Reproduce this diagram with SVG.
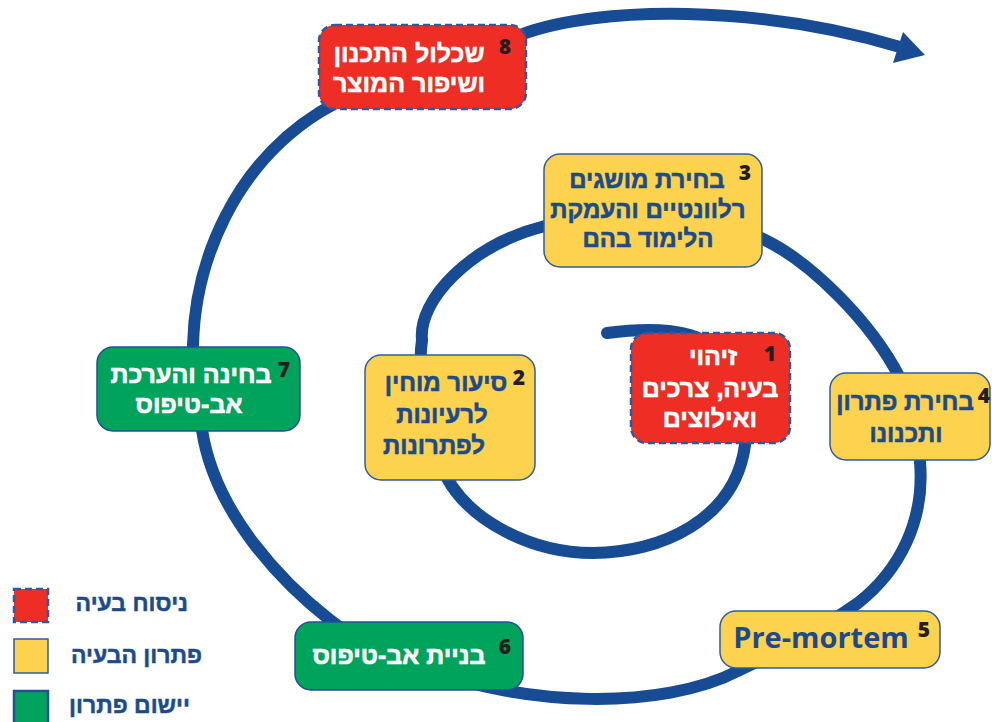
<svg xmlns="http://www.w3.org/2000/svg" width="992" height="722" viewBox="0 0 992 722">
<style>
.spiral{fill:none;stroke:#174C95;stroke-width:12;stroke-linecap:round;stroke-linejoin:round}
.red{fill:#EE2E24;stroke:#2A5BA0;stroke-width:2.5;stroke-dasharray:7 4}
.yellow{fill:#FDD24E;stroke:#2F5C9E;stroke-width:1.5}
.green{fill:#00A35C;stroke:#244F96;stroke-width:1.5}
.tw{font-family:"Liberation Sans","DejaVu Sans",sans-serif;font-weight:bold;font-size:25px;fill:#FFFFFF;stroke:#FFFFFF;stroke-width:0.6;text-anchor:middle}
.tb{font-family:"Liberation Sans","DejaVu Sans",sans-serif;font-weight:bold;font-size:24px;fill:#1B4B8D;stroke:#1B4B8D;stroke-width:0.6;text-anchor:middle}
.num{font-family:"Open Sans","Liberation Sans",sans-serif;font-weight:800;font-size:21px;fill:#231F20;text-anchor:middle}
.leg{font-family:"Liberation Sans","DejaVu Sans",sans-serif;font-weight:bold;font-size:23px;fill:#1B4B8D;stroke:#1B4B8D;stroke-width:0.5;text-anchor:end}
</style>
<rect width="992" height="722" fill="#FFFFFF"/>
<g id="connectors">
<path class="spiral" d="M607,333 C630,330 665,328 690,335 C740,350 752,400 745,445 C735,520 660,553 593,553 C530,553 470,520 447,478 C432,440 416,380 422,340 C418,300 470,245 545,226 C620,210 720,215 765,240 C810,262 870,320 900,378 C915,410 922,440 920,462 C925,520 900,570 858,603 C820,630 780,650 740,670 C660,712 520,705 430,670 C390,655 355,640 330,620 C285,585 215,515 202,430 C196,400 192,370 193,345 C195,260 235,165 320,112 C390,70 460,55 520,35 C600,5 760,5 900,47"/>
<polygon points="903,32 925,55 893,63" fill="#174C95"/>
</g>
<g id="node8">
<rect class="red" x="319" y="25" width="207" height="84" rx="16"/>
<text class="tw" x="409" y="62" font-size="26">שכלול התכנון</text>
<text class="tw" x="409" y="92" font-size="26">ושיפור המוצר</text>
<text class="num" x="505" y="54">8</text>
</g>
<g id="node3">
<rect class="yellow" x="544" y="154" width="218" height="113" rx="16"/>
<text class="tb" x="647" y="188">בחירת מושגים</text>
<text class="tb" x="648" y="218">רלוונטיים והעמקת</text>
<text class="tb" x="648" y="247">הלימוד בהם</text>
<text class="num" x="745" y="180">3</text>
</g>
<g id="node1">
<rect class="red" x="631" y="333" width="159" height="110" rx="16"/>
<text class="tw" x="713" y="365">זיהוי</text>
<text class="tw" x="710" y="397">בעיה, צרכים</text>
<text class="tw" x="710" y="427">ואילוצים</text>
<text class="num" x="770" y="361">1</text>
</g>
<g id="node2">
<rect class="yellow" x="365" y="355" width="170" height="125" rx="16"/>
<text class="tb" x="446" y="391">סיעור מוחין</text>
<text class="tb" x="442" y="423">לרעיונות</text>
<text class="tb" x="434" y="454">לפתרונות</text>
<text class="num" x="519" y="385">2</text>
</g>
<g id="node4">
<rect class="yellow" x="830" y="373" width="160" height="87" rx="16"/>
<text class="tb" x="905" y="410">בחירת פתרון</text>
<text class="tb" x="906" y="442">ותכנונו</text>
<text class="num" x="984" y="403">4</text>
</g>
<g id="node5">
<rect class="yellow" x="720" y="611" width="220" height="57" rx="16"/>
<text x="821" y="648" text-anchor="middle" font-family="'Open Sans','Liberation Sans',sans-serif" font-weight="bold" font-size="29" fill="#1B4B8D">Pre-mortem</text>
<text class="num" x="924" y="637">5</text>
</g>
<g id="node6">
<rect class="green" x="295" y="622" width="228" height="68" rx="16"/>
<text class="tw" x="399" y="664">בניית אב-טיפוס</text>
<text class="num" x="505" y="654">6</text>
</g>
<g id="node7">
<rect class="green" x="97" y="347" width="203" height="84" rx="16"/>
<text class="tw" x="191" y="383">בחינה והערכת</text>
<text class="tw" x="189" y="413">אב-טיפוס</text>
<text class="num" x="284" y="377">7</text>
</g>
<g id="legend">
<rect class="red" x="14" y="589" width="34" height="33"/>
<text class="leg" x="188" y="611">ניסוח בעיה</text>
<rect class="yellow" x="14" y="639" width="34" height="34"/>
<text class="leg" x="202" y="663">פתרון הבעיה</text>
<rect x="14" y="691" width="34" height="34" fill="#00A35C" stroke="#244F96" stroke-width="2.5"/>
<text class="leg" x="190" y="713">יישום פתרון</text>
</g>
</svg>
